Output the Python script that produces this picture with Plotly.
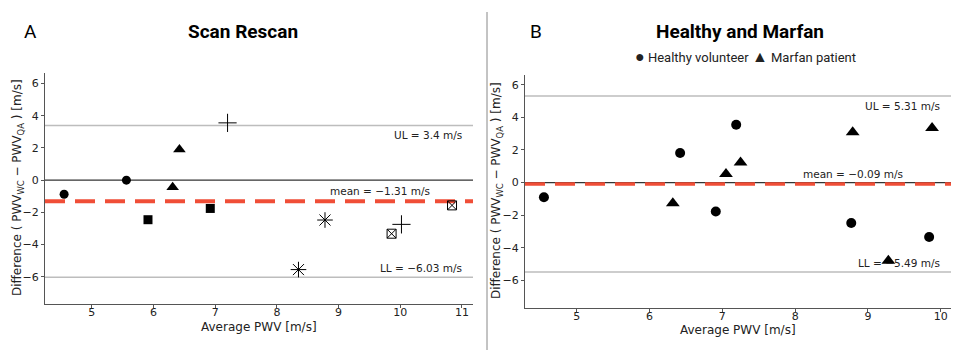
import plotly.graph_objects as go

# ---------------- data ----------------
# Panel A: scan / rescan (pairs per subject, each with its own symbol)
a_groups = ["s1", "s2", "s3", "s4", "s5", "s6"]
a_symbols = ["circle", "triangle-up", "square", "cross-thin-open", "asterisk-open", "square-x-open"]
a_avg = [[4.55, 5.56], [6.31, 6.42], [5.91, 6.92], [7.20, 10.02], [8.35, 8.78], [9.86, 10.84]]
a_diff = [[-0.88, 0.00], [-0.45, 1.90], [-2.46, -1.76], [3.56, -2.75], [-5.56, -2.48], [-3.33, -1.57]]
a_mean, a_ul, a_ll = -1.31, 3.4, -6.03

# Panel B: healthy volunteers vs Marfan patients
b_healthy_avg = [4.55, 6.42, 6.91, 7.19, 8.77, 9.84]
b_healthy_diff = [-0.90, 1.81, -1.78, 3.55, -2.48, -3.34]
b_marfan_avg = [6.32, 7.05, 7.25, 8.79, 9.28, 9.88]
b_marfan_diff = [-1.27, 0.52, 1.23, 3.08, -4.80, 3.35]
b_mean, b_ul, b_ll = -0.09, 5.31, -5.49

x_ticks_a = [5, 6, 7, 8, 9, 10, 11]
x_ticks_b = [5, 6, 7, 8, 9, 10]
y_ticks = [-6, -4, -2, 0, 2, 4, 6]

RED = "#F04E37"
GREY = "#BDBDBD"
TXT = "#222222"
FONT = "DejaVu Sans"
TFONT = "Roboto, sans-serif"

# plot-area geometry (pixels) used to convert to paper coords
L, R, T, B = 44, 951, 73, 313
W, H = R - L, B - T
px = lambda v: (v - L) / W
py = lambda v: (B - v) / H

fig = go.Figure()

marker_size = {"circle": 9, "triangle-up": 11, "square": 9, "cross-thin-open": 13,
               "asterisk-open": 13, "square-x-open": 9}
for g, sym, xs, ys in zip(a_groups, a_symbols, a_avg, a_diff):
    fig.add_trace(go.Scatter(
        x=xs, y=ys, mode="markers", name=g, showlegend=False,
        xaxis="x", yaxis="y",
        marker=dict(symbol=sym, size=marker_size[sym], color="black",
                    line=dict(color="black", width=1 if "open" in sym else 0)),
    ))

fig.add_trace(go.Scatter(
    x=b_healthy_avg, y=b_healthy_diff, mode="markers", name="Healthy volunteer",
    xaxis="x2", yaxis="y2", showlegend=False,
    marker=dict(symbol="circle", size=10, color="black"),
))
fig.add_trace(go.Scatter(
    x=b_marfan_avg, y=b_marfan_diff, mode="markers", name="Marfan patient",
    xaxis="x2", yaxis="y2", showlegend=False,
    marker=dict(symbol="triangle-up", size=12, color="black"),
))

# reference lines
def hlines(xref, yref, mean, ul, ll, dash_w):
    shapes = []
    for val, col, w in [(ul, GREY, 1.5), (ll, GREY, 1.5), (0, "#333333", 1.2)]:
        shapes.append(dict(type="line", xref=xref + " domain", yref=yref,
                           x0=0, x1=1, y0=val, y1=val, line=dict(color=col, width=w), layer="below"))
    shapes.append(dict(type="line", xref=xref + " domain", yref=yref,
                       x0=0, x1=1, y0=mean, y1=mean,
                       line=dict(color=RED, width=dash_w, dash="20px,10px"), layer="below"))
    return shapes

shapes = hlines("x", "y", a_mean, a_ul, a_ll, 4) + hlines("x2", "y2", b_mean, b_ul, b_ll, 3.5)
shapes.append(dict(type="line", xref="paper", yref="paper", x0=px(487), x1=px(487),
                   y0=py(350), y1=py(12), line=dict(color="#888888", width=1)))

ann = []
def limit_labels(xref, yref, mean, ul, ll, mean_x, lim_x):
    fmt = lambda v: f"{v:g}".replace("-", "\u2212")
    f = dict(family=FONT, size=10.5, color=TXT)
    return [
        dict(xref=xref + " domain", yref=yref, x=lim_x, y=ul, text=f"UL = {fmt(ul)} m/s",
             xanchor="right", yanchor="top", yshift=-2, showarrow=False, font=f),
        dict(xref=xref + " domain", yref=yref, x=mean_x, y=mean, text=f"mean = {fmt(mean)} m/s",
             xanchor="right", yanchor="bottom", yshift=2, showarrow=False, font=f),
        dict(xref=xref + " domain", yref=yref, x=lim_x, y=ll, text=f"LL = {fmt(ll)} m/s",
             xanchor="right", yanchor="bottom", yshift=1, showarrow=False, font=f),
    ]

ann += limit_labels("x", "y", a_mean, a_ul, a_ll, 0.905, 0.978)
ann += limit_labels("x2", "y2", b_mean, b_ul, b_ll, 0.893, 0.980)

title_font = dict(family=TFONT, size=19, color="black")
ytitle = "Difference ( PWV<sub>WC</sub> \u2212 PWV<sub>QA</sub> ) [m/s]"
axfont = dict(family=FONT, size=12, color=TXT)
ann += [
    dict(xref="paper", yref="paper", x=px(243), y=py(32), text="<b>Scan Rescan</b>",
         showarrow=False, xanchor="center", yanchor="middle", font=title_font),
    dict(xref="paper", yref="paper", x=px(740), y=py(32), text="<b>Healthy and Marfan</b>",
         showarrow=False, xanchor="center", yanchor="middle", font=title_font),
    dict(xref="paper", yref="paper", x=px(30), y=py(32), text="A",
         showarrow=False, xanchor="center", yanchor="middle", font=title_font),
    dict(xref="paper", yref="paper", x=px(536), y=py(32), text="B",
         showarrow=False, xanchor="center", yanchor="middle", font=title_font),
    dict(xref="paper", yref="paper", x=px(745), y=py(56),
         text="<span style='font-size:16px'>\u25CF</span> Healthy volunteer "
              "<span style='font-size:16px'>\u25B2</span> Marfan patient",
         showarrow=False, xanchor="center", yanchor="middle",
         font=dict(family=TFONT, size=13, color=TXT)),
    # axis titles
    dict(xref="paper", yref="paper", x=px(18), y=py(188), text=ytitle, textangle=-90,
         showarrow=False, xanchor="center", yanchor="middle", font=axfont),
    dict(xref="paper", yref="paper", x=px(497), y=py(191), text=ytitle, textangle=-90,
         showarrow=False, xanchor="center", yanchor="middle", font=axfont),
    dict(xref="paper", yref="paper", x=px(259), y=py(327), text="Average PWV [m/s]",
         showarrow=False, xanchor="center", yanchor="middle", font=axfont),
    dict(xref="paper", yref="paper", x=px(738), y=py(330), text="Average PWV [m/s]",
         showarrow=False, xanchor="center", yanchor="middle", font=axfont),
]

axis_common = dict(showgrid=False, zeroline=False, showline=True, linecolor="#555555",
                   linewidth=1.2, ticks="outside", ticklen=3, tickcolor="#555555",
                   tickfont=dict(family=FONT, size=11, color=TXT),
                   mirror=False, automargin=False)

fig.update_layout(
    width=960, height=359,
    margin=dict(l=L, r=960 - R, t=T, b=359 - B, autoexpand=False),
    paper_bgcolor="white", plot_bgcolor="white",
    showlegend=False,
    shapes=shapes, annotations=ann,
    xaxis=dict(domain=[px(45), px(473)], range=[4.24, 11.18], tickvals=x_ticks_a,
               anchor="y", ticklabelstandoff=-5, **axis_common),
    yaxis=dict(domain=[py(304), py(73)], range=[-7.7, 6.66], tickvals=y_ticks,
               anchor="x", **axis_common),
    xaxis2=dict(domain=[px(525), px(951)], range=[4.29, 10.14], tickvals=x_ticks_b,
                anchor="y2", ticklabelstandoff=-5, **axis_common),
    yaxis2=dict(domain=[py(308), py(75)], range=[-7.7, 6.6], tickvals=y_ticks,
                anchor="x2", **axis_common),
)

fig.write_html("out.html", config={"displayModeBar": False},
               post_script="document.body.style.margin='0';document.body.style.overflow='hidden';")
